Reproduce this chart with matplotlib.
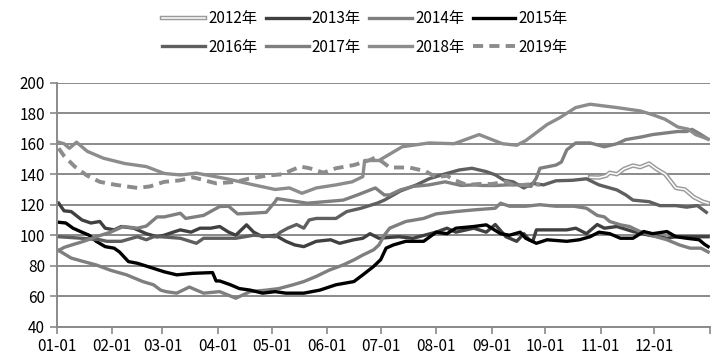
import matplotlib
matplotlib.use('Agg')
import matplotlib.pyplot as plt
import matplotlib.patheffects as pe

plt.rcParams['font.family'] = ['Noto Sans CJK SC', 'DejaVu Sans']

# tick labels (month starts, day of year)
month_days = [0, 31, 59, 90, 120, 151, 181, 212, 243, 273, 304, 334]
month_labels = ['01-01', '02-01', '03-01', '04-01', '05-01', '06-01',
                '07-01', '08-01', '09-01', '10-01', '11-01', '12-01']

# series: day of year -> value
d2012 = [298, 303, 307, 309, 313, 317, 322, 326, 331, 335, 340, 346, 351, 356, 361, 364]
v2012 = [138, 137.8, 139, 141, 140, 143.5, 145.7, 144.6, 147, 143.5, 140, 131, 130, 125, 122, 121]

d2013 = [1, 4, 8, 14, 19, 24, 27, 32, 36, 43, 50, 56, 60, 65, 69, 75, 80, 86, 91, 96, 100,
         106, 110, 115, 122, 128, 133, 138, 145, 153, 158, 166, 171, 175, 180, 191, 199, 212,
         218, 223, 233, 240, 245, 251, 257, 261, 264, 266, 268, 277, 285, 290, 296, 302, 306,
         313, 322, 331, 341, 346, 355, 364]
v2013 = [121, 116, 115.5, 110, 108, 109, 104.6, 103.5, 105.7, 104.6, 101, 99, 100, 102, 103.5,
         102, 104.6, 104.6, 105.7, 102, 100, 106.8, 102, 99, 100, 96, 93.6, 92.5, 96, 97, 94.7,
         97, 98, 101, 98, 99, 98, 102, 104.6, 102, 104.6, 102, 107, 99, 96, 101, 97, 96, 103.5,
         103.5, 103.5, 104.6, 101, 107, 104.6, 105.7, 102.4, 100, 98, 99, 99, 99]

d2014 = [1, 8, 15, 22, 30, 39, 48, 54, 58, 61, 67, 74, 82, 91, 100, 108, 117, 124, 132, 138,
         145, 152, 160, 166, 171, 177, 180, 183, 186, 195, 205, 212, 223, 233, 245, 248, 253,
         262, 270, 279, 289, 296, 302, 306, 309, 315, 320, 326, 335, 341, 348, 354, 360, 364]
v2014 = [90, 85, 82.7, 80.5, 77, 74, 69.6, 67.5, 64, 63, 62, 66, 62, 63, 58.7, 63, 64, 65,
         67.5, 69.6, 73, 77, 80.5, 83.8, 87, 90.4, 93.6, 100, 104.6, 109, 111, 114, 115.5,
         116.6, 117.7, 121, 119, 119, 120, 119, 119, 117.7, 113, 112, 109, 106.8, 105.7, 102.4,
         99, 97, 93.6, 91.5, 91.5, 89]

d2015 = [1, 5, 9, 14, 18, 22, 27, 32, 35, 40, 45, 52, 60, 67, 76, 87, 89, 91, 97, 102, 108,
         115, 122, 128, 138, 147, 156, 166, 171, 177, 181, 184, 188, 195, 205, 212, 218, 223,
         233, 240, 243, 248, 253, 259, 262, 268, 274, 285, 292, 298, 303, 309, 315, 322, 328,
         333, 341, 346, 352, 359, 362, 364]
v2015 = [108.5, 108, 104.6, 102, 100, 96, 92.5, 91.5, 89, 82.7, 81.6, 79, 76, 74, 75, 75.5,
         70, 70, 67.5, 65, 64, 62, 63, 62, 62, 64, 67.5, 69.6, 74, 79.5, 84, 91.5, 93.6, 96, 96,
         102, 101, 104.6, 105.7, 106.8, 104.6, 101, 100, 102, 98, 94.7, 97, 96, 97, 99, 102,
         101, 98, 98, 102.4, 101, 102.4, 99, 98, 97, 94, 92.5]

d2016 = [1, 14, 19, 24, 28, 36, 45, 50, 54, 58, 69, 78, 82, 95, 100, 110, 122, 125, 129, 134,
         138, 141, 145, 156, 162, 170, 179, 183, 192, 201, 208, 217, 225, 232, 240, 245, 250,
         255, 261, 266, 272, 279, 288, 296, 303, 313, 318, 322, 331, 337, 346, 352, 358, 363]
v2016 = [99, 98, 97.5, 97, 96, 96, 99, 97, 99, 99, 98, 94.7, 98, 98, 98, 100, 99, 102, 104.6,
         107, 104.6, 110, 111, 111, 115.5, 117.7, 121, 123, 129, 133, 137, 140.2, 142.8, 143.9,
         141.7, 139.6, 136, 135, 131, 134, 133, 135.7, 136, 137, 133, 129.7, 126.4, 123, 122,
         119.4, 119.4, 118.4, 119.4, 115]

d2017 = [1, 4, 8, 15, 22, 30, 37, 45, 50, 56, 60, 69, 72, 82, 91, 96, 101, 110, 117, 122, 123,
         140, 150, 160, 168, 178, 183, 186, 192, 199, 208, 217, 226, 233, 238, 245, 252, 258,
         265, 268, 270, 279, 282, 285, 290, 298, 306, 313, 318, 327, 333, 347, 352, 355, 360, 364]
v2017 = [90, 92, 93.5, 96, 99, 102, 105.7, 104.6, 106, 112, 112, 114.4, 111, 113, 118.8, 119,
         114, 114.5, 115, 122, 124, 121, 122, 123, 126.4, 131, 126.4, 126.4, 129.7, 132, 133,
         135, 132.6, 133, 132.6, 132.6, 133, 133, 132, 137.5, 143.9, 146, 148, 156, 160.5,
         160.5, 158, 160, 162.7, 164.5, 166, 168, 168, 169.4, 166, 163]

d2018 = [1, 4, 7, 11, 17, 26, 38, 50, 60, 69, 78, 95, 110, 122, 130, 137, 145, 156, 165, 171,
         172, 180, 193, 208, 222, 236, 249, 257, 262, 274, 281, 290, 298, 313, 326, 333, 340,
         347, 353, 357, 364]
v2018 = [161, 160, 157, 161, 155, 150.5, 147, 145, 140.5, 139.5, 140.7, 137, 133, 130, 131,
         127.5, 131, 133, 135, 138.4, 149, 149, 158, 160.5, 160, 166, 160, 159, 162, 172.6, 177,
         183.7, 185.9, 183.7, 181.5, 179, 176, 171, 169.5, 166, 163]

d2019 = [1, 4, 10, 17, 24, 33, 45, 52, 60, 69, 76, 89, 100, 107, 117, 126, 136, 141, 149, 156,
         166, 175, 178, 182, 186, 197, 206, 212, 218, 223, 229, 236, 243, 251, 256, 261, 266, 270]
v2019 = [157, 152, 145, 139, 135, 133, 131, 132, 135, 136, 138, 134, 135, 137, 139, 140, 145,
         144, 141, 143.9, 146, 149.3, 151, 148, 144.4, 144.4, 142, 138, 139, 135.8, 133, 133.6,
         133.6, 135, 132.6, 133, 133.6, 133]

fig = plt.figure(figsize=(7.2, 3.62), dpi=100)
ax = fig.add_axes([0.079, 0.0975, 0.907, 0.674])

lw = 2.4
# 2012 double line: grey outline, white core
ax.plot(d2012, v2012, color='white', lw=1.1, label='2012年',
        path_effects=[pe.Stroke(linewidth=3.2, foreground='#9a9a9a'), pe.Normal()])
ax.plot(d2013, v2013, color='#404040', lw=lw, label='2013年')
ax.plot(d2014, v2014, color='#7f7f7f', lw=lw, label='2014年')
ax.plot(d2015, v2015, color='#000000', lw=lw, label='2015年')
ax.plot(d2016, v2016, color='#5f5f5f', lw=lw, label='2016年')
ax.plot(d2017, v2017, color='#7f7f7f', lw=lw, label='2017年')
ax.plot(d2018, v2018, color='#8c8c8c', lw=lw, label='2018年')
ax.plot(d2019, v2019, color='#8c8c8c', lw=lw + 0.4, dashes=(2.6, 1.6), label='2019年')

ax.set_xlim(0, 365)
ax.set_ylim(40, 200)
ax.set_yticks(range(40, 201, 20))
ax.set_xticks(month_days + [365])
ax.set_xticklabels(month_labels + [''])
ax.yaxis.grid(True, color='#8a8a8a', lw=1.4)
ax.set_axisbelow(True)

for s in ['top', 'right']:
    ax.spines[s].set_visible(False)
for s in ['left', 'bottom']:
    ax.spines[s].set_color('#8a8a8a')
    ax.spines[s].set_linewidth(1.4)
ax.tick_params(axis='both', colors='#8a8a8a', width=1.2, length=5, labelcolor='black',
               labelsize=11)
ax.tick_params(axis='x', pad=3)

# legend fills column by column, so reorder to read row by row
handles, labels = ax.get_legend_handles_labels()
order = [0, 4, 1, 5, 2, 6, 3, 7]
fig.legend([handles[i] for i in order], [labels[i] for i in order], ncol=4, loc='center',
           bbox_to_anchor=(0.507, 0.909), frameon=False, fontsize=11, handlelength=2.8,
           handletextpad=0.2, columnspacing=0.55, labelspacing=0.75)

fig.savefig('out.png', dpi=100)
